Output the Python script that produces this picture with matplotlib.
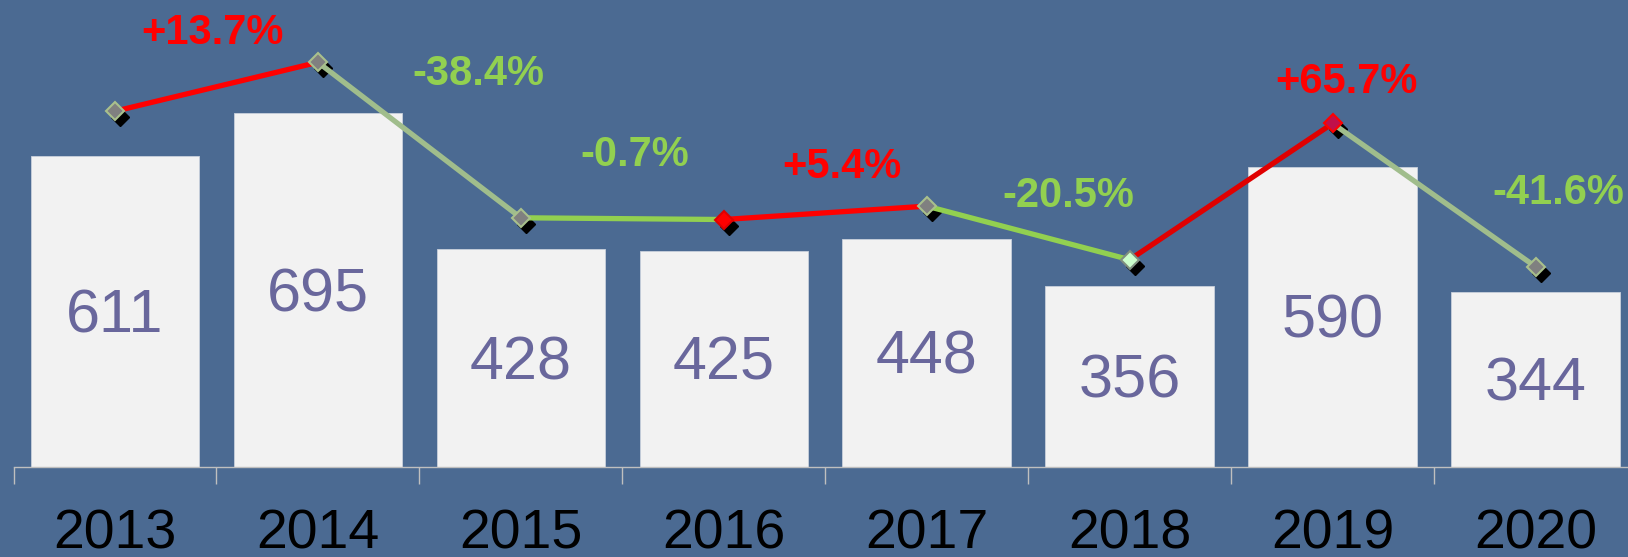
import matplotlib
matplotlib.use("Agg")
import matplotlib.pyplot as plt
import matplotlib.transforms as mtransforms

plt.rcParams['font.family'] = ['Liberation Sans', 'DejaVu Sans']

# Data
years = ['2013', '2014', '2015', '2016', '2017', '2018', '2019', '2020']
values = [611, 695, 428, 425, 448, 356, 590, 344]
changes = ['+13.7%', '-38.4%', '-0.7%', '+5.4%', '-20.5%', '+65.7%', '-41.6%']

# Styling
BG = '#4B6A92'
BAR = '#F2F2F2'
VALUE_COLOR = '#69679C'
UP_RED = '#FF0000'
DOWN_GREEN = '#92D050'
seg_colors = ['#FF0000', '#A0BD8C', '#92D050', '#FF0000', '#92D050', '#E00000', '#A0BD8C']
marker_faces = ['#808080', '#808080', '#808080', '#FF0000', '#808080', '#CCFFCC', '#C0104A', '#808080']
marker_edges = ['#A9C08C', '#A9C08C', '#A9C08C', '#E00000', '#A9C08C', '#7F8F7F', '#FF0000', '#A9C08C']
# label placement (category units, secondary-axis units)
label_x = [0.48, 1.79, 2.56, 3.58, 4.70, 6.07, 7.11]
label_y = [746, 675, 535, 516, 465, 662, 470]

fig = plt.figure(figsize=(16.28, 5.57), dpi=100, facecolor=BG)
ax = fig.add_axes([13.5 / 1628, 90 / 557, 1623.5 / 1628, 467 / 557])
ax.set_facecolor(BG)
x = list(range(len(years)))

ax.bar(x, values, width=0.83, color=BAR, edgecolor='#C8D0DC', linewidth=0.6, zorder=2)
for xi, v in zip(x, values):
    ax.annotate(str(v), (xi, v / 2), xytext=(0, -4), textcoords='offset points',
                ha='center', va='center', fontsize=44, color=VALUE_COLOR, zorder=3)

ax.set_xlim(-0.5, 7.5)
ax.set_ylim(0, 917)
ax.set_yticks([])
for s in ['top', 'left', 'right']:
    ax.spines[s].set_visible(False)
ax.spines['bottom'].set_color('#BFBFBF')
ax.spines['bottom'].set_linewidth(1)
ax.set_xticks(x)
ax.set_xticklabels(years)
ax.set_xticks([i - 0.5 for i in range(len(years) + 1)], minor=True)
ax.tick_params(axis='x', which='major', length=0, labelsize=40, pad=30, labelcolor='black')
ax.tick_params(axis='x', which='minor', length=12, width=1, color='#BFBFBF', direction='out')

# Secondary axis for the change line
ax2 = ax.twinx()
ax2.set_ylim(0, 802)
ax2.set_yticks([])
ax2.patch.set_visible(False)
for s in ax2.spines.values():
    s.set_visible(False)

shadow = mtransforms.offset_copy(ax2.transData, fig=fig, x=5, y=-6, units='dots')
ax2.plot(x, values, linestyle='none', marker='D', markersize=9, color='black',
         transform=shadow, zorder=2)
for i in range(len(values) - 1):
    ax2.plot(x[i:i + 2], values[i:i + 2], color=seg_colors[i], linewidth=3.8,
             solid_capstyle='butt', zorder=3)
for xi, v, fc, ec in zip(x, values, marker_faces, marker_edges):
    ax2.plot(xi, v, marker='D', markersize=9, markerfacecolor=fc,
             markeredgecolor=ec, markeredgewidth=1.5, zorder=4)

for lx, ly, txt in zip(label_x, label_y, changes):
    col = UP_RED if txt.startswith('+') else DOWN_GREEN
    ax2.text(lx, ly, txt, ha='center', va='center', fontsize=30,
             fontweight='bold', color=col, zorder=5)

fig.savefig('out.png', dpi=100, facecolor=BG)
